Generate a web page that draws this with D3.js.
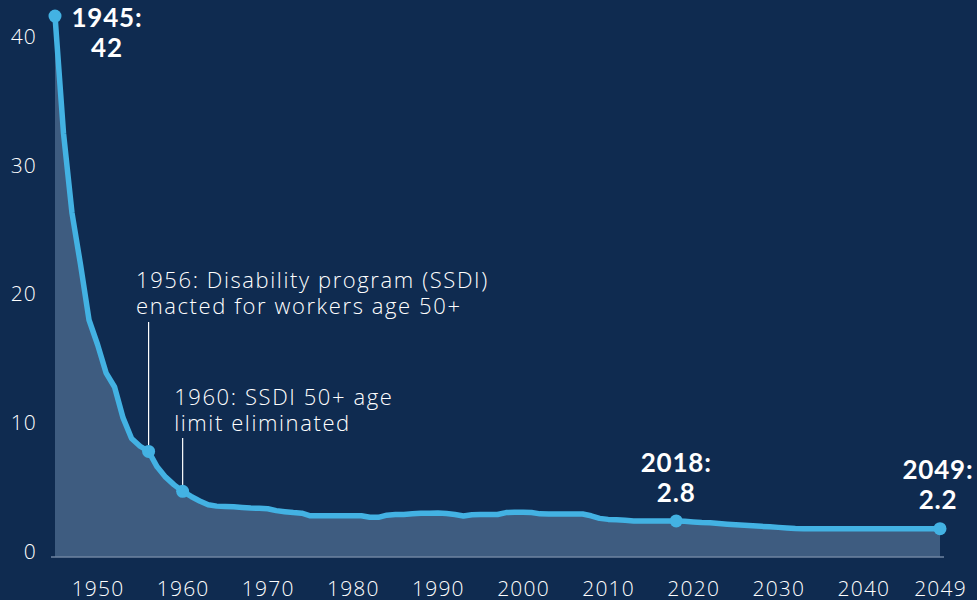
<!DOCTYPE html>
<html>
<head>
<meta charset="utf-8">
<script src="https://cdn.jsdelivr.net/npm/d3@7"></script>
<style>
  html, body { margin: 0; padding: 0; background: #0f2b50; }
  svg { display: block; font-family: "Open Sans", Lato, sans-serif; }
</style>
</head>
<body>
<div id="chart"></div>
<script>
// workers per beneficiary, by year
var years = d3.range(1945, 2050);
var ratio = [
  42.0, 32.9, 26.7, 22.7, 18.4, 16.5, 14.3, 13.2, 10.8, 9.2,   // 1945-1954
  8.6, 8.2, 7.0, 6.2, 5.6, 5.1, 4.7, 4.35, 4.05, 3.95,         // 1955-1964
  3.92, 3.9, 3.85, 3.8, 3.78, 3.75, 3.6, 3.52, 3.45, 3.4,      // 1965-1974
  3.2, 3.2, 3.2, 3.2, 3.2, 3.2, 3.2, 3.08, 3.08, 3.25,         // 1975-1984
  3.3, 3.3, 3.35, 3.4, 3.4, 3.42, 3.38, 3.3, 3.18, 3.28,       // 1985-1994
  3.3, 3.3, 3.3, 3.45, 3.47, 3.47, 3.45, 3.35, 3.34, 3.34,     // 1995-2004
  3.34, 3.34, 3.34, 3.2, 3.0, 2.92, 2.9, 2.85, 2.8, 2.8,       // 2005-2014
  2.8, 2.8, 2.8, 2.8, 2.77, 2.72, 2.68, 2.66, 2.6, 2.55,       // 2015-2024
  2.5, 2.46, 2.42, 2.38, 2.35, 2.3, 2.26, 2.22, 2.2, 2.2,      // 2025-2034
  2.2, 2.2, 2.2, 2.2, 2.2, 2.2, 2.2, 2.2, 2.2, 2.2,            // 2035-2044
  2.2, 2.2, 2.2, 2.2, 2.2                                      // 2045-2049
];
var data = years.map(function (y, i) { return {year: y, value: ratio[i]}; });

var yTicks = [0, 10, 20, 30, 40];
var xTicks = [1950, 1960, 1970, 1980, 1990, 2000, 2010, 2020, 2030, 2040, 2049];

// highlighted points with bold value labels
var callouts = [
  {year: 1945, top: "1945:", bottom: "42"},
  {year: 2018, top: "2018:", bottom: "2.8"},
  {year: 2049, top: "2049:", bottom: "2.2"}
];
// event notes
var notes = [
  {year: 1956, lines: ["1956: Disability program (SSDI)", "enacted for workers age 50+"]},
  {year: 1960, lines: ["1960: SSDI 50+ age", "limit eliminated"]}
];

var width = 977, height = 600;

var svg = d3.select("#chart")
  .append("svg")
    .attr("width", width)
    .attr("height", height);

var x = d3.scaleLinear()
  .domain([1945, 2049])
  .range([55, 940]);

var y = d3.scaleLinear()
  .domain([0, 40])
  .range([557, 41.8]);

function valueAt(yr) {
  return data.find(function (d) { return d.year === yr; }).value;
}

// area under the line
svg.append("path")
  .datum(data)
  .attr("fill", "#3e5c80")
  .attr("d", d3.area()
    .x(function (d) { return x(d.year); })
    .y0(y(0))
    .y1(function (d) { return y(d.value); }));

// baseline
svg.append("line")
  .attr("x1", x.range()[0] - 4)
  .attr("x2", x.range()[1] + 4)
  .attr("y1", y(0))
  .attr("y2", y(0))
  .attr("stroke", "#6f84a0")
  .attr("stroke-width", 1.5);

// X axis
var xAxis = svg.append("g")
  .attr("transform", "translate(0," + y(0) + ")")
  .call(d3.axisBottom(x).tickValues(xTicks).tickFormat(d3.format("d")).tickSize(0).tickPadding(24));
xAxis.select(".domain").remove();
xAxis.selectAll("text")
  .attr("fill", "#ffffff")
  .style("font-size", "21px")
  .style("font-weight", 300)
  .style("letter-spacing", "1.2px")
  .style("font-family", "'Open Sans', sans-serif");

// Y axis
var yAxis = svg.append("g")
  .attr("transform", "translate(37,0)")
  .call(d3.axisLeft(y).tickValues(yTicks).tickSize(0).tickPadding(0));
yAxis.select(".domain").remove();
yAxis.selectAll("text")
  .attr("fill", "#ffffff")
  .attr("dy", "0.07em")
  .style("font-size", "21px")
  .style("font-weight", 300)
  .style("letter-spacing", "1.2px")
  .style("font-family", "'Open Sans', sans-serif");

// note leader lines and text
var noteOffsets = {1956: {dx: -12.6, top: 288, lead: 322}, 1960: {dx: -8.5, top: 405, lead: 438}};
notes.forEach(function (n) {
  var o = noteOffsets[n.year];
  var px = x(n.year), py = y(valueAt(n.year));
  svg.append("line")
    .attr("x1", px).attr("x2", px)
    .attr("y1", o.lead).attr("y2", py - 6)
    .attr("stroke", "#ffffff")
    .attr("stroke-width", 1.2);
  n.lines.forEach(function (line, i) {
    svg.append("text")
      .attr("x", px + o.dx)
      .attr("y", o.top + i * 26)
      .attr("fill", "#ffffff")
      .style("font-size", "22px")
      .style("font-weight", 300)
      .style("letter-spacing", "1.6px")
      .text(line);
  });
});

// the line
svg.append("path")
  .datum(data)
  .attr("fill", "none")
  .attr("stroke", "#43b2e3")
  .attr("stroke-width", 5.5)
  .attr("stroke-linejoin", "round")
  .attr("d", d3.line()
    .x(function (d) { return x(d.year); })
    .y(function (d) { return y(d.value); }));

// markers
var markerYears = [1945, 1956, 1960, 2018, 2049];
svg.selectAll(".marker")
  .data(markerYears)
  .enter()
  .append("circle")
    .attr("class", "marker")
    .attr("cx", function (d) { return x(d); })
    .attr("cy", function (d) { return y(valueAt(d)); })
    .attr("r", 6.5)
    .attr("fill", "#43b2e3");

// bold callouts
callouts.forEach(function (c) {
  var px = x(c.year), py = y(valueAt(c.year));
  var cx, y1;
  if (c.year === 1945) { cx = px + 52; y1 = py + 11; }
  else if (c.year === 2049) { cx = px - 2; y1 = py - 50; }
  else { cx = px; y1 = py - 49; }
  var t = svg.append("text")
    .attr("text-anchor", "middle")
    .attr("fill", "#ffffff")
    .style("font-family", "Lato, sans-serif")
    .style("font-size", "26px")
    .style("letter-spacing", "0.8px")
    .style("font-weight", 700);
  t.append("tspan").attr("x", cx).attr("y", y1).text(c.top);
  t.append("tspan").attr("x", cx).attr("y", y1 + 30).text(c.bottom);
});
</script>
</body>
</html>
